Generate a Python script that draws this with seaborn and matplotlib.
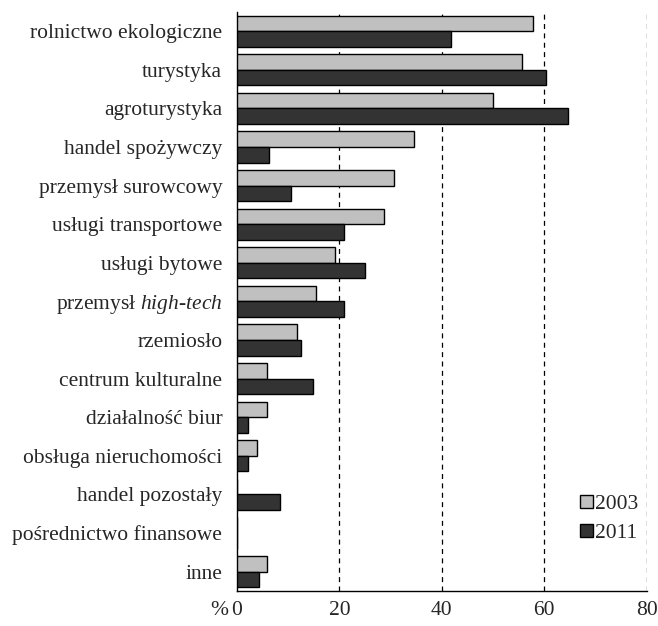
import matplotlib
matplotlib.use("Agg")
import matplotlib.pyplot as plt
import seaborn as sns
import pandas as pd
from matplotlib.ticker import FixedLocator
from matplotlib.patches import Patch

categories = [
    "rolnictwo ekologiczne", "turystyka", "agroturystyka", "handel spożywczy",
    "przemysł surowcowy", "usługi transportowe", "usługi bytowe",
    "przemysł $\\mathit{high}$-$\\mathit{tech}$", "rzemiosło", "centrum kulturalne",
    "działalność biur", "obsługa nieruchomości", "handel pozostały",
    "pośrednictwo finansowe", "inne",
]
values_2003 = [57.8, 55.7, 49.9, 34.6, 30.7, 28.8, 19.2, 15.4, 11.7, 5.8, 5.8, 3.9, 0, 0, 5.8]
values_2011 = [41.7, 60.4, 64.7, 6.3, 10.5, 21.0, 25.0, 21.0, 12.5, 14.8, 2.2, 2.2, 8.5, 0, 4.3]
years = ["2003", "2011"]
x_ticks = [0, 20, 40, 60, 80]

df = pd.DataFrame({
    "cat": categories * 2,
    "val": values_2003 + values_2011,
    "year": [years[0]] * len(categories) + [years[1]] * len(categories),
})

sns.set_style("white")
plt.rcParams["font.family"] = ["Liberation Serif", "DejaVu Serif"]
plt.rcParams["mathtext.fontset"] = "custom"
plt.rcParams["mathtext.rm"] = "Liberation Serif"
plt.rcParams["mathtext.it"] = "Liberation Serif:italic"

FS = 15.5

fig = plt.figure(figsize=(6.58, 6.26), dpi=100)
ax = fig.add_axes([0.360, 0.056, 0.623, 0.925])

colors = {"2003": "#c0c0c0", "2011": "#333333"}
sns.barplot(data=df, y="cat", x="val", hue="year", orient="h", order=categories,
            hue_order=years, palette=colors, width=0.81, edgecolor="black",
            linewidth=1.0, ax=ax, legend=False, zorder=3)

ax.set_xlim(0, 80)
ax.set_ylim(len(categories) - 0.5, -0.5)
ax.set_xticks(x_ticks)
ax.set_xlabel("")
ax.set_ylabel("")
for xv in x_ticks[1:]:
    ax.axvline(xv, color="black", linestyle=(0, (4, 3.5)), linewidth=0.9, zorder=1)

for s in ["top", "right"]:
    ax.spines[s].set_visible(False)
ax.spines["left"].set_color("black")
ax.spines["bottom"].set_color("black")
ax.spines["left"].set_linewidth(1.0)
ax.spines["bottom"].set_linewidth(1.0)

ax.tick_params(axis="y", which="major", length=0, labelsize=FS, pad=10.5)
ax.yaxis.set_minor_locator(FixedLocator([i - 0.5 for i in range(len(categories) + 1)]))
ax.tick_params(axis="y", which="minor", length=5, direction="out", color="black", width=1)
ax.tick_params(axis="x", length=5, direction="out", color="black", width=1, labelsize=FS, pad=2)

ax.annotate("%", xy=(0, 0), xycoords="axes fraction", xytext=(-6, -7),
            textcoords="offset points", ha="right", va="top", fontsize=FS)

handles = [Patch(facecolor=colors[y], edgecolor="black", linewidth=1.0, label=y) for y in years]
ax.legend(handles=handles, loc="upper left", bbox_to_anchor=(0.79, 0.2), frameon=False,
          fontsize=FS, handlelength=0.6, handleheight=0.6, handletextpad=0.1, labelspacing=0.45)

fig.savefig("out.png", dpi=100)
